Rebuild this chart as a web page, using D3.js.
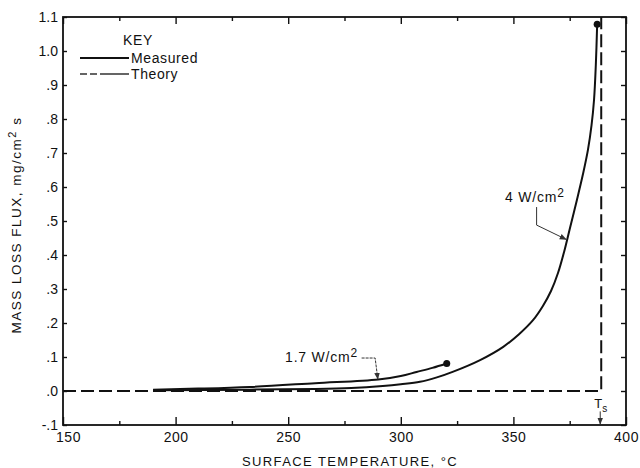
<!DOCTYPE html>
<html>
<head>
<meta charset="utf-8">
<script src="https://cdn.jsdelivr.net/npm/d3@7"></script>
<style>
  body { margin: 0; background: #fff; }
  svg text { font-family: "Liberation Sans", Arial, sans-serif; fill: #111; }
  .frame { fill: none; stroke: #111; stroke-width: 1.8; }
  .tick line { stroke: #111; stroke-width: 1.4; }
  .domain { display: none; }
</style>
</head>
<body>
<svg id="chart" width="640" height="468"></svg>
<script>
// axis ticks
var xMajor = [150, 200, 250, 300, 350, 400];
var xMinor = [175, 225, 275, 325, 375];
var yTicks = [-0.1, 0, 0.1, 0.2, 0.3, 0.4, 0.5, 0.6, 0.7, 0.8, 0.9, 1.0, 1.1];
var yTickLabels = ["-.1", ".0", ".1", ".2", ".3", ".4", ".5", ".6", ".7", ".8", ".9", "1.0", "1.1"];

// measured, 4 W/cm2
var temp4 = [190, 233, 262, 278, 292, 300, 308.5, 316, 323.3, 335.2, 345.5, 352.5, 358.8, 363.1, 366.7, 369.8, 372.5, 375.1, 378.2, 380.9, 383.1, 384.7, 385.8, 386.6, 387.2];
var flux4 = [0.002, 0.004, 0.006, 0.009, 0.015, 0.020, 0.027, 0.040, 0.057, 0.091, 0.130, 0.167, 0.209, 0.250, 0.294, 0.347, 0.409, 0.479, 0.562, 0.638, 0.709, 0.782, 0.856, 0.959, 1.079];

// measured, 1.7 W/cm2
var temp17 = [190, 210, 233, 262, 290, 300, 307, 314, 320.4];
var flux17 = [0.004, 0.007, 0.012, 0.023, 0.034, 0.044, 0.056, 0.068, 0.081];

// theory
var theoryTemp = [150, 389, 389];
var theoryFlux = [0, 0, 1.1];
var Ts = 389;

var W = 640, H = 468;
var m = {left: 63, right: 14, top: 17, bottom: 43};
var svg = d3.select("#chart");

var x = d3.scaleLinear().domain([150, 400]).range([m.left, W - m.right]);
var y = d3.scaleLinear().domain([-0.1, 1.1]).range([H - m.bottom, m.top]);

svg.append("defs").append("marker")
    .attr("id", "arrow")
    .attr("viewBox", "0 0 10 10")
    .attr("refX", 9).attr("refY", 5)
    .attr("markerWidth", 7).attr("markerHeight", 7)
    .attr("orient", "auto")
  .append("path")
    .attr("d", "M0,1 L10,5 L0,9 Z")
    .attr("fill", "#333");

// axes
var bottomAxis = svg.append("g").attr("transform", "translate(0," + y(-0.1) + ")");
bottomAxis.call(d3.axisBottom(x).tickValues(xMajor).tickSize(-8).tickPadding(7).tickFormat(d3.format("d")));
bottomAxis.append("g").call(d3.axisBottom(x).tickValues(xMinor).tickSize(-4).tickFormat(""));
bottomAxis.selectAll("text").attr("font-size", 14).attr("letter-spacing", 0.5);
bottomAxis.select(".tick text").attr("dx", 5);   // first label sits right of the corner

var topAxis = svg.append("g").attr("transform", "translate(0," + y(1.1) + ")");
topAxis.call(d3.axisTop(x).tickValues(xMajor).tickSize(-7).tickFormat(""));
topAxis.append("g").call(d3.axisTop(x).tickValues(xMinor).tickSize(-4).tickFormat(""));

var leftAxis = svg.append("g").attr("transform", "translate(" + x(150) + ",0)");
leftAxis.call(d3.axisLeft(y).tickValues(yTicks).tickSize(-4).tickPadding(5)
    .tickFormat(function(d, i) { return yTickLabels[i]; }));
leftAxis.selectAll("text").attr("font-size", 14);

svg.append("g").attr("transform", "translate(" + x(400) + ",0)")
    .call(d3.axisRight(y).tickValues(yTicks).tickSize(-5).tickFormat(""));

svg.append("rect").attr("class", "frame")
    .attr("x", x(150)).attr("y", y(1.1))
    .attr("width", x(400) - x(150)).attr("height", y(-0.1) - y(1.1));

// theory line
svg.append("path")
    .datum(d3.range(theoryTemp.length))
    .attr("fill", "none").attr("stroke", "#111").attr("stroke-width", 2)
    .attr("stroke-dasharray", "13,5")
    .attr("d", d3.line().x(function(i) { return x(theoryTemp[i]); }).y(function(i) { return y(theoryFlux[i]); }));

// measured curves
var curveLine = function(tt, ff) {
  return d3.line().curve(d3.curveCatmullRom.alpha(0.5))
    .x(function(i) { return x(tt[i]); }).y(function(i) { return y(ff[i]); })(d3.range(tt.length));
};
svg.append("path").attr("d", curveLine(temp4, flux4))
    .attr("fill", "none").attr("stroke", "#111").attr("stroke-width", 2);
svg.append("path").attr("d", curveLine(temp17, flux17))
    .attr("fill", "none").attr("stroke", "#111").attr("stroke-width", 2);

svg.append("circle").attr("cx", x(temp4[temp4.length - 1])).attr("cy", y(flux4[flux4.length - 1])).attr("r", 3.5).attr("fill", "#111");
svg.append("circle").attr("cx", x(temp17[temp17.length - 1])).attr("cy", y(flux17[flux17.length - 1])).attr("r", 3.5).attr("fill", "#111");

// curve labels
function fluxLabel(t, v, txt) {
  var el = svg.append("text").attr("x", x(t)).attr("y", y(v)).attr("font-size", 14).attr("letter-spacing", 0.8);
  el.append("tspan").text(txt + " W/cm");
  el.append("tspan").attr("dy", -5).attr("font-size", 12).text("2");
}
fluxLabel(346.3, 0.557, "4");
fluxLabel(248.6, 0.086, "1.7");

svg.append("path")
    .attr("d", d3.line()([[x(360.3), y(0.541)], [x(360.3), y(0.488)], [x(373.4), y(0.446)]]))
    .attr("fill", "none").attr("stroke", "#333").attr("stroke-width", 1)
    .attr("marker-end", "url(#arrow)");
svg.append("path")
    .attr("d", d3.line()([[x(282.6), y(0.097)], [x(288.6), y(0.097)], [x(289.8), y(0.035)]]))
    .attr("fill", "none").attr("stroke", "#333").attr("stroke-width", 1)
    .attr("stroke-dasharray", "3,1")
    .attr("marker-end", "url(#arrow)");

// Ts marker
var tsText = svg.append("text").attr("x", x(Ts) - 7).attr("y", y(-0.05)).attr("font-size", 13);
tsText.append("tspan").text("T");
tsText.append("tspan").attr("dy", 4).attr("font-size", 10).text("s");
svg.append("line")
    .attr("x1", x(Ts) - 1).attr("x2", x(Ts) - 1)
    .attr("y1", y(-0.06)).attr("y2", y(-0.1) - 1)
    .attr("stroke", "#333").attr("stroke-width", 1)
    .attr("marker-end", "url(#arrow)");

// key
var kx = 80, ky = 40;
svg.append("text").attr("x", 138).attr("y", ky + 5).attr("text-anchor", "middle")
    .attr("font-size", 14).attr("letter-spacing", 0.6).text("KEY");
svg.append("line").attr("x1", kx).attr("x2", kx + 49).attr("y1", 58).attr("y2", 58)
    .attr("stroke", "#111").attr("stroke-width", 1.8);
svg.append("text").attr("x", kx + 51).attr("y", 63).attr("font-size", 14).attr("letter-spacing", 0.6).text("Measured");
svg.append("line").attr("x1", kx).attr("x2", kx + 49).attr("y1", 74).attr("y2", 74)
    .attr("stroke", "#333").attr("stroke-width", 1.3).attr("stroke-dasharray", "7,3,7,3,29,10");
svg.append("text").attr("x", kx + 51).attr("y", 79).attr("font-size", 14).attr("letter-spacing", 0.6).text("Theory");

// axis titles
svg.append("text").attr("x", 350).attr("y", 466).attr("text-anchor", "middle")
    .attr("font-size", 13).attr("letter-spacing", 1.4).text("SURFACE TEMPERATURE, °C");

var yt = svg.append("text").attr("transform", "translate(21,225) rotate(-90)")
    .attr("text-anchor", "middle").attr("font-size", 13.5).attr("letter-spacing", 1.5);
yt.append("tspan").text("MASS LOSS FLUX, mg/cm");
yt.append("tspan").attr("dy", -5).attr("font-size", 11).text("2");
yt.append("tspan").attr("dy", 5).text(" s");
</script>
</body>
</html>
